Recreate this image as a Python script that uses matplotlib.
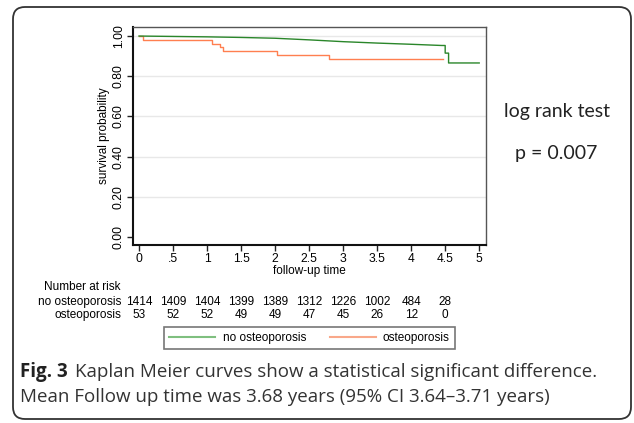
import matplotlib
matplotlib.use("Agg")
import matplotlib.pyplot as plt
from matplotlib.patches import FancyBboxPatch
from matplotlib.lines import Line2D
from matplotlib.transforms import blended_transform_factory

# ---- data ----
no_op_time = [0, 0.5, 1.0, 1.5, 2.0, 2.5, 3.0, 3.5, 4.0, 4.45, 4.5, 4.5, 4.55, 4.55, 5.0]
no_op_surv = [1.0, 0.998, 0.996, 0.993, 0.989, 0.981, 0.972, 0.965, 0.959, 0.953, 0.953, 0.915, 0.915, 0.866, 0.866]
op_time = [0, 0.06, 1.07, 1.19, 1.24, 2.03, 2.79, 4.47]
op_surv = [1.0, 0.981, 0.962, 0.943, 0.925, 0.906, 0.887, 0.887]

risk_times = [0, 0.5, 1, 1.5, 2, 2.5, 3, 3.5, 4, 4.5]
risk_no_op = [1414, 1409, 1404, 1399, 1389, 1312, 1226, 1002, 484, 28]
risk_op = [53, 52, 52, 49, 49, 47, 45, 26, 12, 0]

x_ticks = [0, 0.5, 1, 1.5, 2, 2.5, 3, 3.5, 4, 4.5, 5]
x_ticklabels = ["0", ".5", "1", "1.5", "2", "2.5", "3", "3.5", "4", "4.5", "5"]
y_ticks = [0.0, 0.2, 0.4, 0.6, 0.8, 1.0]
y_ticklabels = ["0.00", "0.20", "0.40", "0.60", "0.80", "1.00"]

series_names = ["no osteoporosis", "osteoporosis"]
green = "#2a862a"
orange = "#ff7f50"

W, H = 634, 423
fig = plt.figure(figsize=(W / 100, H / 100), dpi=100)
sfont = ["Liberation Sans Narrow", "Liberation Sans", "DejaVu Sans"]

def px(x0, y0, x1, y1):
    return [x0 / W, 1 - y1 / H, (x1 - x0) / W, (y1 - y0) / H]

ax = fig.add_axes(px(133, 27, 486, 245))
ax.set_xlim(-0.088, 5.10)
ax.set_ylim(-0.04, 1.045)

for v in y_ticks[1:]:
    ax.axhline(v, color="#e8e8e8", lw=1.0, zorder=0)

ax.plot(no_op_time, no_op_surv, color=green, lw=1.0, zorder=3)
ax.step(op_time, op_surv, where="post", color=orange, lw=1.0, zorder=2)

ax.set_xticks(x_ticks)
ax.set_xticklabels(x_ticklabels, family=sfont, fontsize=8.7)
ax.set_yticks(y_ticks)
ax.set_yticklabels(y_ticklabels, family=sfont, fontsize=8.7, rotation=90, va="center")
ax.tick_params(axis="both", direction="out", length=4, width=1, color="#222", pad=2)

for s in ["left", "bottom"]:
    ax.spines[s].set_linewidth(1.5)
    ax.spines[s].set_color("#111")
for s in ["top", "right"]:
    ax.spines[s].set_linewidth(1.0)
    ax.spines[s].set_color("#555")

ax.set_ylabel("survival probability", family=sfont, fontsize=8.5, labelpad=2)
ax.set_xlabel("follow-up time", family=sfont, fontsize=8.5, labelpad=0)

# number at risk table
tr = blended_transform_factory(ax.transData, fig.transFigure)
fig.text(121 / W, 1 - 287 / H, "Number at risk", ha="right", va="center", family=sfont, fontsize=8.5)
fig.text(121 / W, 1 - 302 / H, series_names[0], ha="right", va="center", family=sfont, fontsize=8.5)
fig.text(121 / W, 1 - 315 / H, series_names[1], ha="right", va="center", family=sfont, fontsize=8.5)
for t, a, b in zip(risk_times, risk_no_op, risk_op):
    ax.text(t, 1 - 302 / H, str(a), transform=tr, ha="center", va="center", family=sfont, fontsize=8.5)
    ax.text(t, 1 - 315 / H, str(b), transform=tr, ha="center", va="center", family=sfont, fontsize=8.5)

# legend
handles = [Line2D([], [], color="#7fbf7f", lw=1.5), Line2D([], [], color="#f9a88a", lw=1.5)]
leg = fig.legend(handles, series_names, loc="center", bbox_to_anchor=(309.5 / W, 1 - 338 / H),
                 ncol=2, frameon=True, fancybox=False, edgecolor="#555", handlelength=3.9,
                 columnspacing=2.0, handletextpad=0.6, borderpad=0.45, borderaxespad=0,
                 prop={"family": sfont, "size": 8.5})
leg.get_frame().set_linewidth(1.2)

# right side text
fig.text(557 / W, 1 - 112 / H, "log rank test", ha="center", va="center", family="Lato", fontsize=14, color="#222")
fig.text(556 / W, 1 - 153 / H, "p = 0.007", ha="center", va="center", family="Lato", fontsize=14, color="#222")

# caption
fig.text(20 / W, 1 - 372 / H, "Fig. 3", ha="left", va="center", family="Open Sans", fontweight="bold", fontsize=13.5, color="#222")
fig.text(75 / W, 1 - 372 / H, "Kaplan Meier curves show a statistical significant difference.", ha="left", va="center",
         family="Open Sans", fontsize=13.5, color="#333")
fig.text(20 / W, 1 - 397 / H, "Mean Follow up time was 3.68 years (95% CI 3.64\u20133.71 years)", ha="left", va="center",
         family="Open Sans", fontsize=13.5, color="#333")

# outer rounded frame
frame = FancyBboxPatch((0.13, 0.04), 6.18, 4.12, boxstyle="round,pad=0,rounding_size=0.12",
                       transform=fig.dpi_scale_trans, fill=False, edgecolor="#333", lw=1.3)
fig.patches.append(frame)

fig.savefig("out.png", dpi=100)
